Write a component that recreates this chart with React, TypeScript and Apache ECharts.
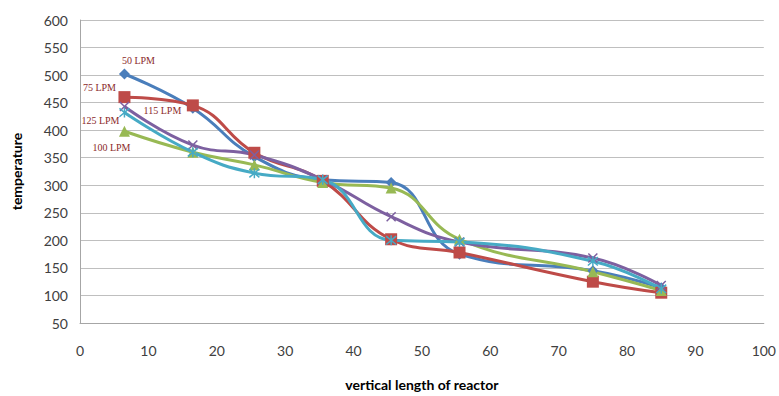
import React, { useEffect, useRef } from "react";
import * as echarts from "echarts";

const positions = [6.5, 16.5, 25.5, 35.5, 45.5, 55.5, 75, 85];
const lpm50 = [502, 440, 352, 310, 305, 175, 145, 114];
const lpm75 = [460, 445, 359, 308, 202, 178, 125, 105];
const lpm100 = [398, 360, 337, 305, 295, 202, 143, 109];
const lpm115 = [443, 373, 355, 310, 243, 197, 168, 118];
const lpm125 = [432, 360, 322, 310, 200, 197, 162, 112];
const seriesNames = ["50 LPM", "75 LPM", "100 LPM", "115 LPM", "125 LPM"];
const yTicks = [50, 600, 50];

const xPath = "path://M0,0L10,10M10,0L0,10";
const starPath = "path://M0,0L10,10M10,0L0,10M5,-1L5,11";

export default function App() {
  const ref = useRef<HTMLDivElement>(null);
  useEffect(() => {
    const chart = echarts.init(ref.current!, null, { renderer: "svg" });
    const mk = (
      name: string,
      vals: number[],
      color: string,
      symbol: string,
      size: number,
      offset: number[],
      lineOnly = false
    ) => ({
      name,
      type: "line",
      smooth: 0.45,
      symbol,
      symbolSize: size,
      lineStyle: { color, width: 3 },
      itemStyle: lineOnly
        ? { color: "none", borderColor: color, borderWidth: 1.5 }
        : { color },
      data: positions.map((x, i) =>
        i === 0
          ? {
              value: [x, vals[i]],
              label: {
                show: true,
                position: "inside",
                offset,
                formatter: name,
                fontFamily: "Liberation Serif",
                fontSize: 10,
                color: "#8b2a2a",
              },
            }
          : [x, vals[i]]
      ),
    });
    chart.setOption({
      animation: false,
      backgroundColor: "#fff",
      grid: { left: 80, right: 15, top: 20, bottom: 70 },
      xAxis: {
        type: "value",
        min: 0,
        max: 100,
        interval: 10,
        name: "vertical length of reactor",
        nameLocation: "middle",
        nameGap: 54,
        nameTextStyle: { fontFamily: "Lato", fontWeight: "bold", fontSize: 14, color: "#000" },
        axisLine: { show: true, lineStyle: { color: "#a6a6a6" } },
        axisTick: { show: false },
        splitLine: { show: false },
        axisLabel: { fontFamily: "Lato", fontSize: 14, color: "#404040", margin: 20 },
      },
      yAxis: {
        type: "value",
        min: yTicks[0],
        max: yTicks[1],
        interval: yTicks[2],
        name: "temperature",
        nameLocation: "middle",
        nameGap: 57,
        nameTextStyle: { fontFamily: "Lato", fontWeight: "bold", fontSize: 14, color: "#000" },
        axisLine: { show: true, lineStyle: { color: "#a6a6a6" } },
        axisTick: { show: false },
        splitLine: { show: true, lineStyle: { color: "#bfbfbf", width: 1 } },
        axisLabel: { fontFamily: "Lato", fontSize: 14, color: "#404040", margin: 12 },
      },
      series: [
        mk(seriesNames[0], lpm50, "#4a7ebb", "diamond", 11, [14, -13]),
        mk(seriesNames[1], lpm75, "#be4b48", "rect", 12, [-25, -10]),
        mk(seriesNames[2], lpm100, "#98b954", "triangle", 11, [-13, 16]),
        mk(seriesNames[3], lpm115, "#7d60a0", xPath, 9, [38, 4], true),
        mk(seriesNames[4], lpm125, "#46aac5", starPath, 10, [-24, 8], true),
      ],
    });
    return () => chart.dispose();
  }, []);
  return (
    <div
      ref={ref}
      style={{ position: "fixed", left: 0, top: 0, width: 779, height: 396 }}
    />
  );
}
